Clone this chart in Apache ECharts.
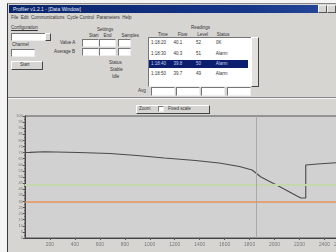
<!DOCTYPE html>
<html>
<head>
<meta charset="utf-8">
<script src="https://cdn.jsdelivr.net/npm/echarts@6/dist/echarts.min.js"></script>
<style>
  body { margin: 0; width: 336px; height: 252px; overflow: hidden; background: #f4f4f4;
         font-family: "Liberation Sans", Arial, sans-serif; position: relative; }
  .win { position: absolute; left: 7px; top: 3px; width: 340px; height: 260px; background: #d6d5d2;
         border-left: 1px solid #3a3a3a; border-top: 1px solid #888; }
  .abs { position: absolute; }
  .title { left: 1px; top: 1px; width: 340px; height: 8px;
           background: linear-gradient(to right, #0a246a, #16368a 70%, #2a4c9c); }
  .title span { color: #e8ecf8; font-size: 5px; position: absolute; left: 4px; top: 1px; }
  .tbtn { top: 1px; width: 7px; height: 6px; background: #d6d5d2; border: 1px solid #f0f0f0;
          border-right-color: #555; border-bottom-color: #555; }
  .t { font-size: 4.5px; color: #333; white-space: nowrap; }
  .box { background: #fff; border: 1px solid #777; border-right-color: #eee; border-bottom-color: #eee; }
  .btn { background: #d6d5d2; border: 1px solid #fff; border-right-color: #444; border-bottom-color: #444; }
  .sel { background: #0c1f6e; }
  .row { font-size: 4.5px; color: #333; }
</style>
</head>
<body>
<div class="win">
  <div class="abs title"><span>Profiler v1.2.1 - [Data Window]</span></div>
  <div class="abs tbtn" style="left:310px"></div>
  <div class="abs tbtn" style="left:319px"></div>

  <div class="abs t" style="left:3px;top:11px">File&nbsp; Edit&nbsp; Communications&nbsp; Cycle Control&nbsp; Parameters&nbsp; Help</div>

  <div class="abs t" style="left:3px;top:21px;text-decoration:underline">Configuration</div>
  <div class="abs box" style="left:3px;top:29px;width:33px;height:6px"></div>
  <div class="abs btn" style="left:37px;top:29px;width:4px;height:6px"></div>
  <div class="abs t" style="left:4px;top:38px">Channel</div>
  <div class="abs box" style="left:3px;top:45px;width:22px;height:6px"></div>
  <div class="abs btn" style="left:3px;top:57px;width:30px;height:7px"></div>
  <div class="abs t" style="left:12px;top:58px">Start</div>

  <div class="abs t" style="left:89px;top:23px">Settings</div>
  <div class="abs t" style="left:81px;top:29px">Start&nbsp;&nbsp;&nbsp; End&nbsp;&nbsp;&nbsp;&nbsp;&nbsp;&nbsp;&nbsp; Samples</div>
  <div class="abs t" style="left:52px;top:36px">Value A</div>
  <div class="abs box" style="left:74px;top:35px;width:15px;height:6px"></div>
  <div class="abs box" style="left:91px;top:35px;width:15px;height:6px"></div>
  <div class="abs box" style="left:110px;top:35px;width:11px;height:6px"></div>
  <div class="abs t" style="left:46px;top:45px">Average B</div>
  <div class="abs box" style="left:74px;top:44px;width:15px;height:6px"></div>
  <div class="abs box" style="left:91px;top:44px;width:15px;height:6px"></div>
  <div class="abs box" style="left:110px;top:44px;width:11px;height:6px"></div>
  <div class="abs t" style="left:101px;top:56px">Status</div>
  <div class="abs t" style="left:102px;top:63px">Stable</div>
  <div class="abs t" style="left:104px;top:70px">Idle</div>

  <div class="abs t" style="left:183px;top:21px">Readings</div>
  <div class="abs t" style="left:150px;top:28px">Time&nbsp;&nbsp;&nbsp;&nbsp;&nbsp;&nbsp;&nbsp; Flow&nbsp;&nbsp;&nbsp;&nbsp;&nbsp;&nbsp;&nbsp; Level&nbsp;&nbsp;&nbsp;&nbsp;&nbsp;&nbsp; Status</div>
  <div class="abs box" style="left:140px;top:33px;width:102px;height:48px"></div>
  <div class="abs row" style="left:143px;top:36px">1:18:20&nbsp;&nbsp;&nbsp;&nbsp;&nbsp; 40.1&nbsp;&nbsp;&nbsp;&nbsp;&nbsp;&nbsp;&nbsp;&nbsp;&nbsp;&nbsp; 52&nbsp;&nbsp;&nbsp;&nbsp;&nbsp;&nbsp;&nbsp;&nbsp;&nbsp;&nbsp;&nbsp; 0K</div>
  <div class="abs row" style="left:143px;top:47px">1:18:30&nbsp;&nbsp;&nbsp;&nbsp;&nbsp; 40.3&nbsp;&nbsp;&nbsp;&nbsp;&nbsp;&nbsp;&nbsp;&nbsp;&nbsp;&nbsp; 51&nbsp;&nbsp;&nbsp;&nbsp;&nbsp;&nbsp;&nbsp;&nbsp;&nbsp;&nbsp;&nbsp; Alarm</div>
  <div class="abs sel" style="left:141px;top:56px;width:99px;height:8px"></div>
  <div class="abs row" style="left:143px;top:57px;color:#c8d0f0">1:18:40&nbsp;&nbsp;&nbsp;&nbsp;&nbsp; 39.8&nbsp;&nbsp;&nbsp;&nbsp;&nbsp;&nbsp;&nbsp;&nbsp;&nbsp;&nbsp; 50&nbsp;&nbsp;&nbsp;&nbsp;&nbsp;&nbsp;&nbsp;&nbsp;&nbsp;&nbsp;&nbsp; Alarm</div>
  <div class="abs row" style="left:143px;top:67px">1:18:50&nbsp;&nbsp;&nbsp;&nbsp;&nbsp; 39.7&nbsp;&nbsp;&nbsp;&nbsp;&nbsp;&nbsp;&nbsp;&nbsp;&nbsp;&nbsp; 49&nbsp;&nbsp;&nbsp;&nbsp;&nbsp;&nbsp;&nbsp;&nbsp;&nbsp;&nbsp;&nbsp; Alarm</div>
  <div class="abs btn" style="left:243px;top:33px;width:6px;height:48px;background:#e2e1de"></div>
  <div class="abs t" style="left:130px;top:84px">Avg</div>
  <div class="abs box" style="left:143px;top:83px;width:22px;height:7px"></div>
  <div class="abs box" style="left:168px;top:83px;width:22px;height:7px"></div>
  <div class="abs box" style="left:193px;top:83px;width:22px;height:7px"></div>
  <div class="abs box" style="left:219px;top:83px;width:22px;height:7px"></div>

  <div class="abs" style="left:0;top:93px;width:340px;height:1px;background:#888"></div>
  <div class="abs" style="left:0;top:94px;width:340px;height:1px;background:#f4f4f4"></div>

  <div class="abs btn" style="left:128px;top:101px;width:72px;height:7px"></div>
  <div class="abs t" style="left:131px;top:102px">Zoom</div>
  <div class="abs box" style="left:150px;top:102px;width:4px;height:4px"></div>
  <div class="abs t" style="left:160px;top:102px">Fixed scale</div>
</div>
<div id="chart" style="position:absolute;left:8px;top:100px;width:340px;height:152px"></div>
<script>
// trace samples (x = elapsed, y = level %)
const traceX = [0, 39, 156, 430, 680, 898, 1117, 1367, 1555, 1719, 1820, 1891, 2031, 2180, 2211, 2250, 2250, 2344, 2523];
const traceY = [70.1, 70.2, 70.7, 70.1, 69.3, 67.6, 65.6, 63.5, 61.5, 58.6, 55.7, 50.0, 42.6, 34.4, 32.8, 32.8, 59.8, 60.7, 61.9];
const upperLimit = [43.4];
const lowerLimit = [29.5];
const cursorAt = [1852];

const chart = echarts.init(document.getElementById('chart'));
chart.setOption({
  animation: false,
  grid: {
    left: 17, top: 16, right: 0, bottom: 14,
    show: true, backgroundColor: '#d0d1d0', borderColor: '#555', borderWidth: 1
  },
  xAxis: {
    type: 'value', min: 0, max: 2520, interval: 200,
    axisLine: { lineStyle: { color: '#444' } },
    axisTick: { lineStyle: { color: '#555' }, length: 2 },
    axisLabel: { fontSize: 5, color: '#777', margin: 4, showMinLabel: false, formatter: v => String(v) },
    splitLine: { show: false }
  },
  yAxis: {
    type: 'value', min: 0, max: 100, interval: 5,
    axisLine: { show: true, lineStyle: { color: '#444' } },
    axisTick: { show: true, lineStyle: { color: '#555' }, length: 2 },
    minorTick: { show: true, splitNumber: 2, length: 1, lineStyle: { color: '#666' } },
    axisLabel: { fontSize: 4, color: '#777', margin: 2 },
    splitLine: { show: false }
  },
  series: [
    {
      type: 'line',
      data: traceX.map((x, i) => [x, traceY[i]]),
      symbol: 'none',
      lineStyle: { color: '#4a4a4a', width: 1.1 },
      markLine: {
        silent: true, symbol: 'none', label: { show: false },
        data: [
          ...upperLimit.map(v => ({ yAxis: v, lineStyle: { color: '#c3d9ad', width: 2, type: 'solid' } })),
          ...lowerLimit.map(v => ({ yAxis: v, lineStyle: { color: '#e8925c', width: 1.5, type: 'solid' } })),
          ...cursorAt.map(v => ({ xAxis: v, lineStyle: { color: '#a8a8a8', width: 1, type: 'solid' } }))
        ]
      }
    }
  ]
});
</script>
</body>
</html>
